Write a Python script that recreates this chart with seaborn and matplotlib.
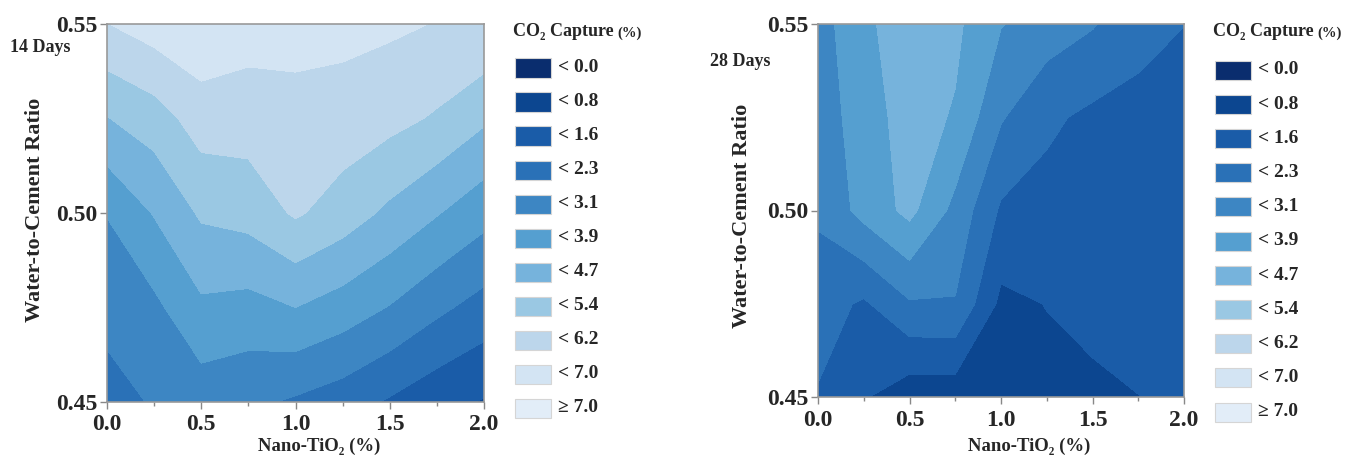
import numpy as np
import matplotlib
matplotlib.use("Agg")
import matplotlib.pyplot as plt
import seaborn as sns
from matplotlib.patches import Rectangle
from matplotlib.ticker import MultipleLocator, FixedLocator

# ---------------- data ----------------
nano_tio2 = [0.0, 0.25, 0.5, 0.75, 1.0, 1.25, 1.5, 1.75, 2.0]
wc_ratio = [0.45, 0.475, 0.50, 0.525, 0.55]

# rows: wc_ratio (bottom -> top), columns: nano_tio2
capture_14d = [
    [2.03, 2.40, 2.67, 2.50, 2.22, 1.92, 1.47, 1.04, 0.72],
    [2.57, 2.93, 3.74, 3.62, 3.89, 3.53, 3.07, 2.50, 2.03],
    [3.14, 3.94, 4.78, 4.96, 5.54, 5.08, 4.50, 3.94, 3.38],
    [4.64, 5.06, 5.81, 5.80, 5.95, 5.88, 5.67, 5.35, 4.79],
    [6.20, 6.60, 6.85, 6.57, 6.50, 6.45, 6.35, 6.19, 6.15],
]
capture_28d = [
    [1.50, 0.85, 0.30, 0.30, 0.50, 0.55, 0.62, 0.77, 0.95],
    [1.90, 1.45, 2.25, 2.28, 0.60, 0.80, 1.00, 1.10, 1.20],
    [2.45, 3.37, 4.10, 2.88, 1.45, 1.30, 1.30, 1.28, 1.25],
    [2.63, 3.54, 4.20, 3.82, 2.40, 1.70, 1.40, 1.30, 1.25],
    [2.76, 3.73, 4.30, 4.05, 3.15, 2.75, 2.39, 1.85, 1.57],
]

level_bounds = [0.0, 0.78, 1.56, 2.33, 3.11, 3.89, 4.67, 5.44, 6.22, 7.0]
legend_labels = ["< 0.0", "< 0.8", "< 1.6", "< 2.3", "< 3.1", "< 3.9",
                 "< 4.7", "< 5.4", "< 6.2", "< 7.0", "\u2265 7.0"]
legend_title = "CO\u2082 Capture"
legend_unit = "(%)"
panel_titles = ["14 Days", "28 Days"]
x_ticks = [0.0, 0.5, 1.0, 1.5, 2.0]
y_ticks = [0.45, 0.50, 0.55]

# ---------------- style ----------------
sns.set_theme(style="ticks")
plt.rcParams["font.family"] = ["Liberation Serif", "DejaVu Serif"]
plt.rcParams["font.weight"] = "bold"
plt.rcParams["axes.labelweight"] = "bold"

band_colors = sns.color_palette([
    "#0a2d6e", "#0c4690", "#1a5ca8", "#2a71b7", "#3d86c3", "#559fd0",
    "#76b3dc", "#9ac8e3", "#bcd6eb", "#d3e4f3", "#e2edf8"])
levels = [-100.0] + level_bounds + [100.0]

W, H = 1352, 463
fig = plt.figure(figsize=(W / 100, H / 100), dpi=100)

axes_px = [(107, 24, 484, 402), (818, 24, 1184, 397)]
title_px = [(10, 47), (710, 62)]
xlabel_pos = [(0.562, -0.116), (0.577, -0.131)]
ylabel_pos = [(-0.191, 0.508), (-0.208, 0.485)]
# legend layout: (title x, patch x, first row centre y, row pitch)
legend_layout = [(513, 515, 68, 34.0), (1213, 1215, 70, 34.2)]
patch_w, patch_h = 36, 19

X, Y = np.meshgrid(nano_tio2, wc_ratio)
for i, data in enumerate([capture_14d, capture_28d]):
    l, t, r, b = axes_px[i]
    ax = fig.add_axes([l / W, (H - b) / H, (r - l) / W, (b - t) / H])
    ax.contourf(X, Y, np.array(data), levels=levels, colors=band_colors)
    ax.set_xlim(0, 2.0)
    ax.set_ylim(0.45, 0.55)
    ax.xaxis.set_major_locator(FixedLocator(x_ticks))
    ax.xaxis.set_minor_locator(MultipleLocator(0.25))
    ax.yaxis.set_major_locator(FixedLocator(y_ticks))
    ax.set_xticklabels([f"{v:.1f}" for v in x_ticks])
    ax.set_yticklabels([f"{v:.2f}" for v in y_ticks])
    ax.tick_params(axis="both", which="major", labelsize=17, length=5,
                   width=1, color="#888888")
    ax.tick_params(axis="x", which="major", pad=4)
    ax.tick_params(axis="y", which="major", pad=2)
    ax.tick_params(axis="x", which="minor", length=3, width=1, color="#888888")
    for lab in ax.get_xticklabels() + ax.get_yticklabels():
        lab.set_fontweight("bold")
    for sp in ax.spines.values():
        sp.set_color("#999999")
        sp.set_linewidth(1.2)
    ax.set_xlabel("Nano-TiO\u2082 (%)", fontsize=13.5, fontweight="bold")
    ax.set_ylabel("Water-to-Cement Ratio", fontsize=16, fontweight="bold")
    ax.xaxis.label.set_va("center")
    ax.yaxis.label.set_va("center")
    ax.xaxis.set_label_coords(*xlabel_pos[i])
    ax.yaxis.set_label_coords(*ylabel_pos[i])

    tx, ty = title_px[i]
    fig.text(tx / W, 1 - ty / H, panel_titles[i], fontsize=13,
             fontweight="bold", va="center", ha="left")

    # legend (drawn swatch by swatch)
    lt_x, lp_x, y0, pitch = legend_layout[i]
    ttl = fig.text(lt_x / W, 1 - 32 / H, legend_title, fontsize=13,
                   fontweight="bold", va="center", ha="left")
    fig.canvas.draw()
    bb = ttl.get_window_extent()
    fig.text((bb.x1 + 4) / W, 1 - 33 / H, legend_unit, fontsize=10.5,
             fontweight="bold", va="center", ha="left")
    for k, (c, lab) in enumerate(zip(band_colors, legend_labels)):
        yc = y0 + k * pitch
        fig.add_artist(Rectangle((lp_x / W, 1 - (yc + patch_h / 2) / H),
                                 patch_w / W, patch_h / H,
                                 transform=fig.transFigure, facecolor=c,
                                 edgecolor="#d5d5d5", linewidth=0.8))
        fig.text((lp_x + patch_w + 7) / W, 1 - yc / H, lab, fontsize=14,
                 fontweight="bold", va="center", ha="left")

fig.savefig("out.png", dpi=100)
